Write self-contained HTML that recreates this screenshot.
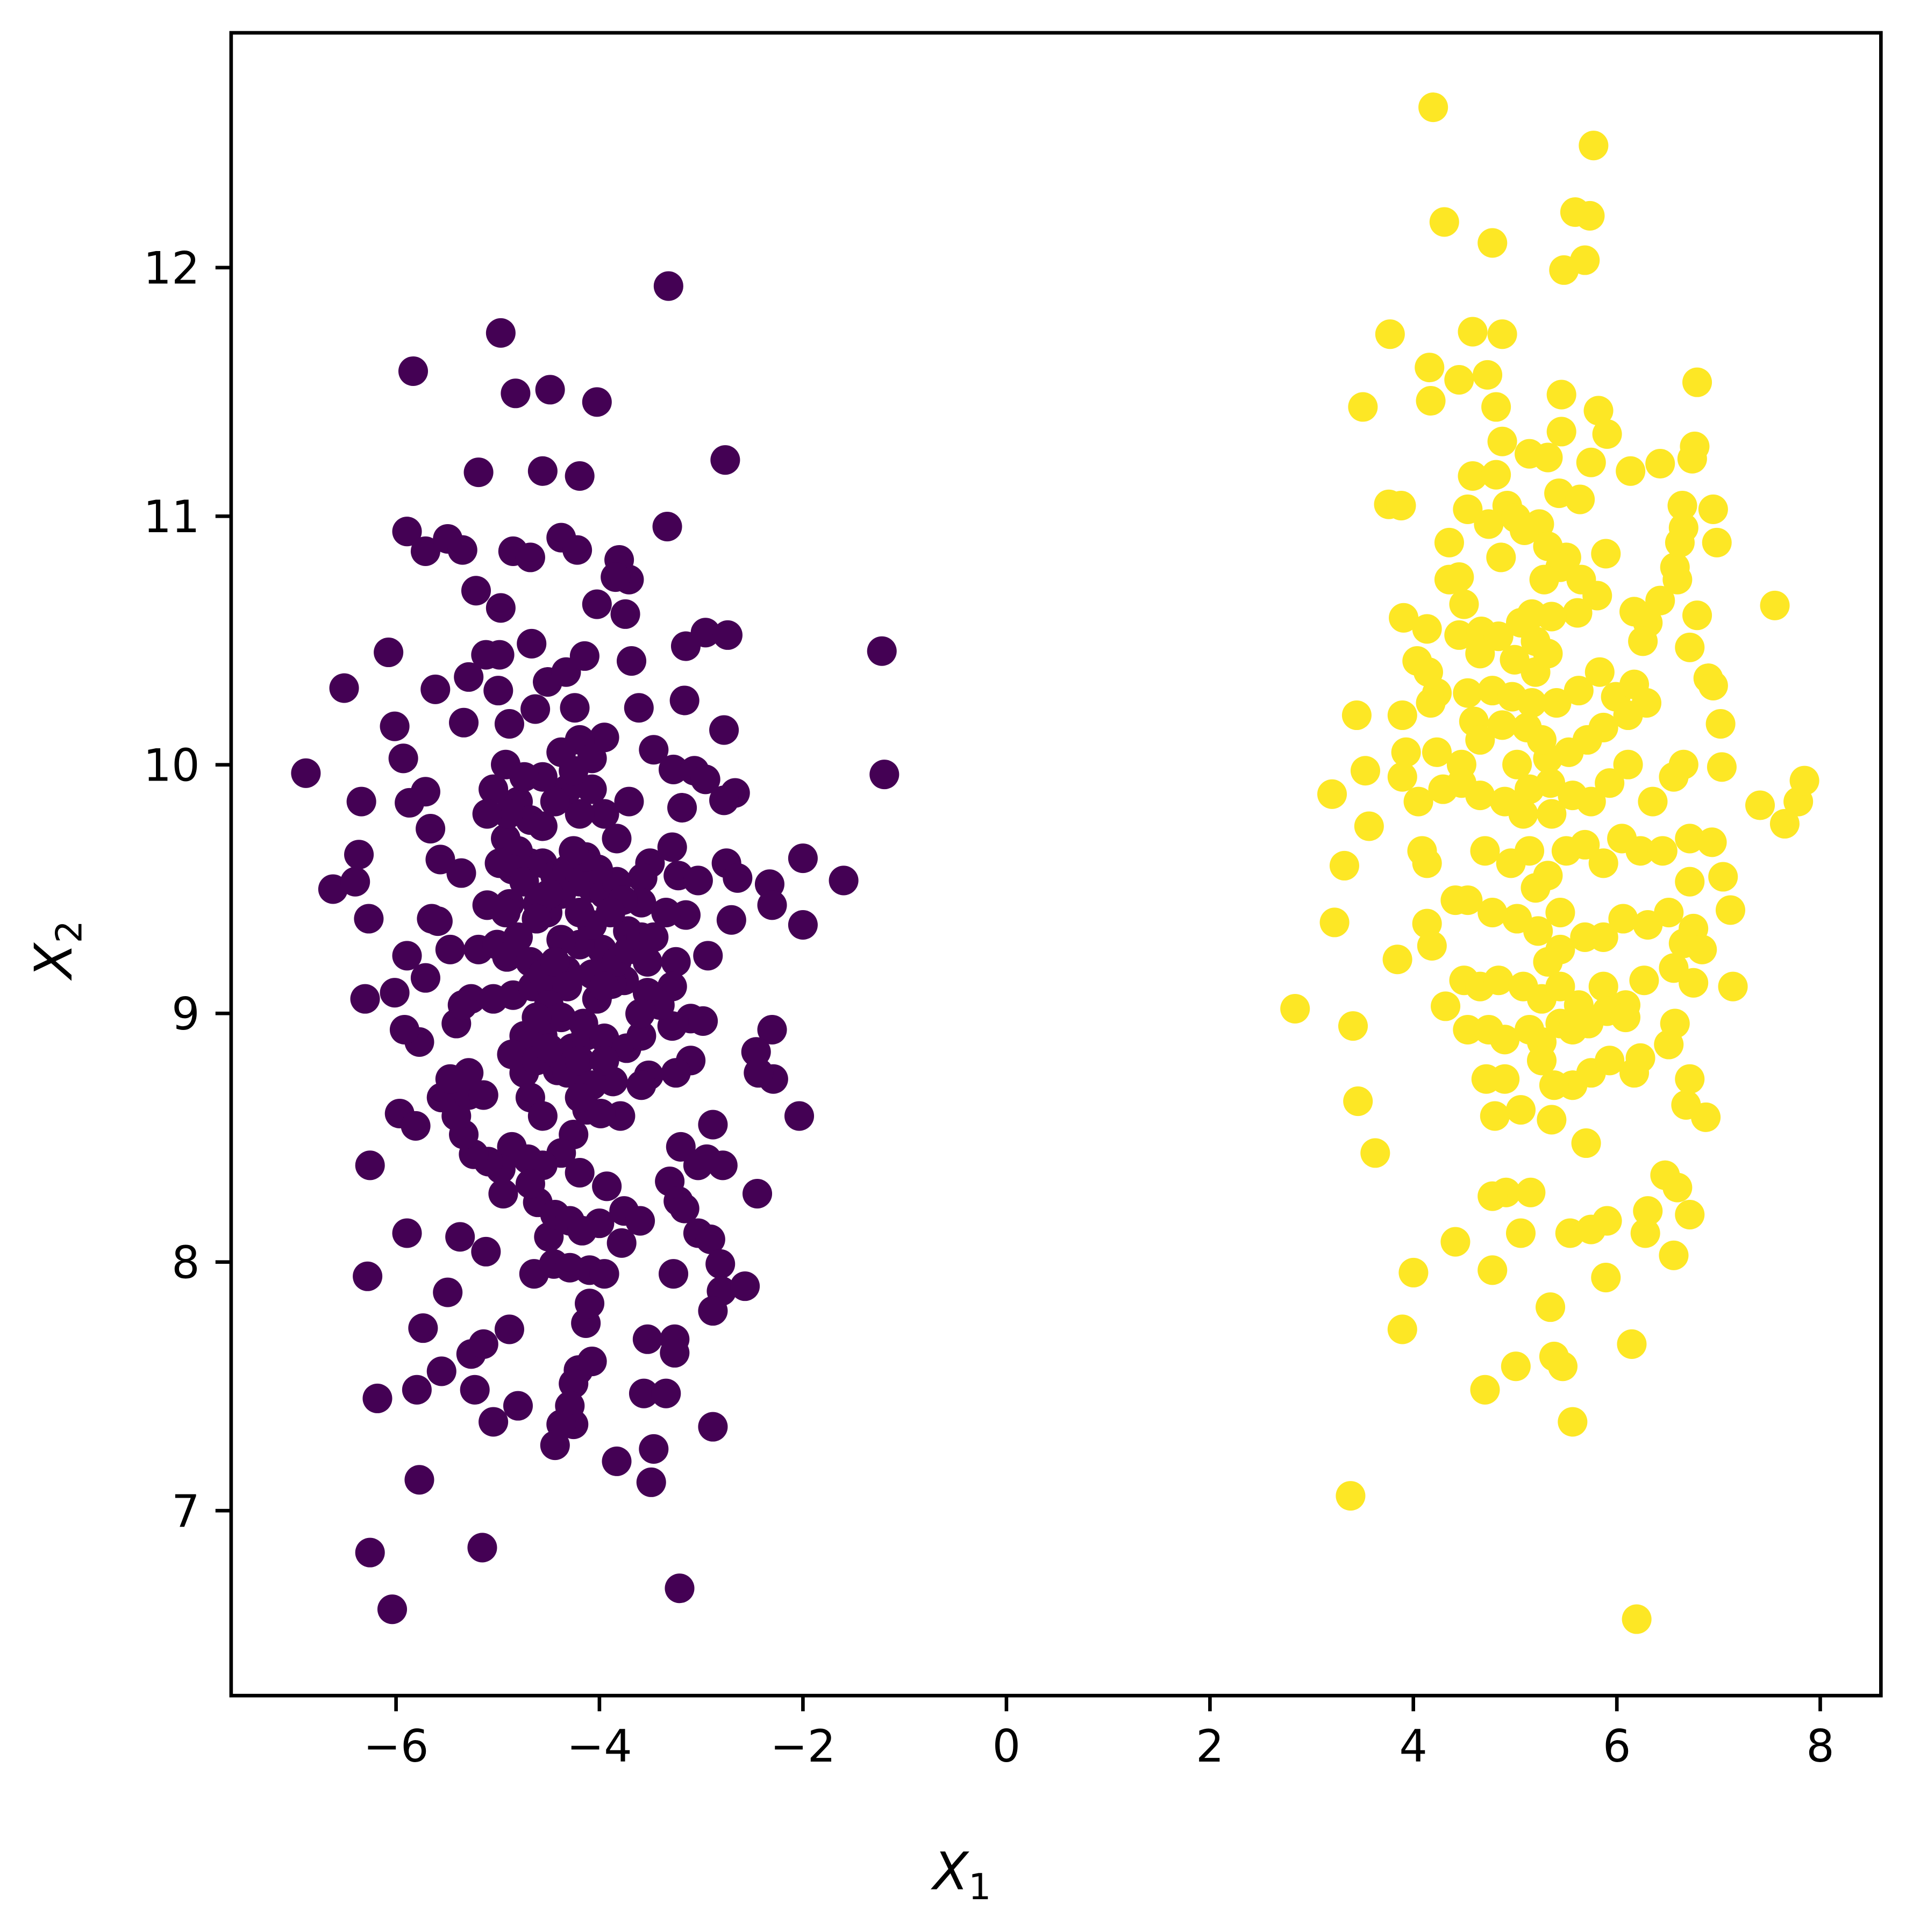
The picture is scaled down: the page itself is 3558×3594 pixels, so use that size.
<!DOCTYPE html>
<html><head><meta charset="utf-8"><style>html,body{margin:0;padding:0;background:#fff}svg{display:block}</style></head>
<body>
<svg xmlns="http://www.w3.org/2000/svg" width="3558" height="3594" viewBox="0 0 1551 1566.7">
<rect width="1551" height="1566.7" fill="#fff"/>
<g fill="#440154" id="p"></g>
<g fill="#fde725" id="y"></g>
<g fill="#440154">
<circle cx="248" cy="627" r="12"/><circle cx="279" cy="558" r="12"/><circle cx="315" cy="529" r="12"/><circle cx="270" cy="721" r="12"/><circle cx="288" cy="715" r="12"/><circle cx="291" cy="693" r="12"/><circle cx="299" cy="745" r="12"/><circle cx="293" cy="650" r="12"/><circle cx="296" cy="810" r="12"/><circle cx="300" cy="945" r="12"/><circle cx="298" cy="1035" r="12"/><circle cx="306" cy="1134" r="12"/><circle cx="300" cy="1259" r="12"/><circle cx="318" cy="1305" r="12"/><circle cx="335" cy="301" r="12"/><circle cx="330" cy="431" r="12"/><circle cx="345" cy="447" r="12"/><circle cx="363" cy="437" r="12"/><circle cx="375" cy="446" r="12"/><circle cx="388" cy="383" r="12"/><circle cx="386" cy="479" r="12"/><circle cx="406" cy="270" r="12"/><circle cx="418" cy="319" r="12"/><circle cx="446" cy="316" r="12"/><circle cx="440" cy="382" r="12"/><circle cx="470" cy="386" r="12"/><circle cx="484" cy="326" r="12"/><circle cx="542" cy="232" r="12"/><circle cx="588" cy="373" r="12"/><circle cx="541" cy="427" r="12"/><circle cx="416" cy="447" r="12"/><circle cx="430" cy="452" r="12"/><circle cx="455" cy="436" r="12"/><circle cx="468" cy="446" r="12"/><circle cx="502" cy="454" r="12"/><circle cx="510" cy="470" r="12"/><circle cx="499" cy="468" r="12"/><circle cx="484" cy="490" r="12"/><circle cx="406" cy="493" r="12"/><circle cx="507" cy="498" r="12"/><circle cx="556" cy="524" r="12"/><circle cx="572" cy="513" r="12"/><circle cx="590" cy="515" r="12"/><circle cx="512" cy="536" r="12"/><circle cx="431" cy="522" r="12"/><circle cx="394" cy="531" r="12"/><circle cx="380" cy="549" r="12"/><circle cx="405" cy="531" r="12"/><circle cx="353" cy="559" r="12"/><circle cx="320" cy="589" r="12"/><circle cx="327" cy="615" r="12"/><circle cx="332" cy="651" r="12"/><circle cx="345" cy="642" r="12"/><circle cx="349" cy="672" r="12"/><circle cx="376" cy="586" r="12"/><circle cx="413" cy="587" r="12"/><circle cx="404" cy="560" r="12"/><circle cx="434" cy="575" r="12"/><circle cx="444" cy="553" r="12"/><circle cx="466" cy="574" r="12"/><circle cx="459" cy="545" r="12"/><circle cx="474" cy="532" r="12"/><circle cx="490" cy="598" r="12"/><circle cx="518" cy="574" r="12"/><circle cx="530" cy="608" r="12"/><circle cx="555" cy="568" r="12"/><circle cx="587" cy="592" r="12"/><circle cx="546" cy="624" r="12"/><circle cx="563" cy="625" r="12"/><circle cx="572" cy="632" r="12"/><circle cx="596" cy="643" r="12"/><circle cx="587" cy="649" r="12"/><circle cx="553" cy="655" r="12"/><circle cx="545" cy="687" r="12"/><circle cx="527" cy="700" r="12"/><circle cx="521" cy="712" r="12"/><circle cx="550" cy="710" r="12"/><circle cx="566" cy="714" r="12"/><circle cx="589" cy="700" r="12"/><circle cx="598" cy="712" r="12"/><circle cx="624" cy="717" r="12"/><circle cx="626" cy="734" r="12"/><circle cx="651" cy="696" r="12"/><circle cx="684" cy="714" r="12"/><circle cx="715" cy="528" r="12"/><circle cx="717" cy="628" r="12"/><circle cx="651" cy="750" r="12"/><circle cx="593" cy="746" r="12"/><circle cx="556" cy="742" r="12"/><circle cx="520" cy="732" r="12"/><circle cx="509" cy="755" r="12"/><circle cx="488" cy="770" r="12"/><circle cx="470" cy="766" r="12"/><circle cx="455" cy="762" r="12"/><circle cx="444" cy="740" r="12"/><circle cx="436" cy="733" r="12"/><circle cx="413" cy="733" r="12"/><circle cx="395" cy="734" r="12"/><circle cx="374" cy="708" r="12"/><circle cx="357" cy="697" r="12"/><circle cx="350" cy="745" r="12"/><circle cx="355" cy="747" r="12"/><circle cx="330" cy="775" r="12"/><circle cx="345" cy="793" r="12"/><circle cx="365" cy="770" r="12"/><circle cx="388" cy="770" r="12"/><circle cx="403" cy="766" r="12"/><circle cx="411" cy="776" r="12"/><circle cx="382" cy="810" r="12"/><circle cx="370" cy="830" r="12"/><circle cx="375" cy="815" r="12"/><circle cx="400" cy="810" r="12"/><circle cx="416" cy="807" r="12"/><circle cx="432" cy="800" r="12"/><circle cx="447" cy="800" r="12"/><circle cx="459" cy="787" r="12"/><circle cx="440" cy="840" r="12"/><circle cx="452" cy="868" r="12"/><circle cx="464" cy="850" r="12"/><circle cx="475" cy="840" r="12"/><circle cx="490" cy="842" r="12"/><circle cx="497" cy="877" r="12"/><circle cx="508" cy="850" r="12"/><circle cx="520" cy="840" r="12"/><circle cx="545" cy="832" r="12"/><circle cx="560" cy="826" r="12"/><circle cx="570" cy="828" r="12"/><circle cx="574" cy="775" r="12"/><circle cx="548" cy="780" r="12"/><circle cx="545" cy="800" r="12"/><circle cx="535" cy="815" r="12"/><circle cx="525" cy="805" r="12"/><circle cx="519" cy="822" r="12"/><circle cx="506" cy="795" r="12"/><circle cx="496" cy="798" r="12"/><circle cx="484" cy="810" r="12"/><circle cx="473" cy="830" r="12"/><circle cx="560" cy="860" r="12"/><circle cx="548" cy="870" r="12"/><circle cx="526" cy="872" r="12"/><circle cx="520" cy="880" r="12"/><circle cx="503" cy="905" r="12"/><circle cx="487" cy="903" r="12"/><circle cx="476" cy="900" r="12"/><circle cx="465" cy="920" r="12"/><circle cx="455" cy="935" r="12"/><circle cx="440" cy="945" r="12"/><circle cx="428" cy="940" r="12"/><circle cx="415" cy="930" r="12"/><circle cx="406" cy="948" r="12"/><circle cx="396" cy="942" r="12"/><circle cx="384" cy="936" r="12"/><circle cx="376" cy="920" r="12"/><circle cx="370" cy="905" r="12"/><circle cx="358" cy="890" r="12"/><circle cx="380" cy="888" r="12"/><circle cx="392" cy="888" r="12"/><circle cx="380" cy="870" r="12"/><circle cx="365" cy="875" r="12"/><circle cx="340" cy="845" r="12"/><circle cx="328" cy="835" r="12"/><circle cx="320" cy="805" r="12"/><circle cx="324" cy="903" r="12"/><circle cx="337" cy="913" r="12"/><circle cx="330" cy="1000" r="12"/><circle cx="373" cy="1003" r="12"/><circle cx="394" cy="1015" r="12"/><circle cx="408" cy="968" r="12"/><circle cx="436" cy="975" r="12"/><circle cx="445" cy="1003" r="12"/><circle cx="450" cy="985" r="12"/><circle cx="462" cy="990" r="12"/><circle cx="472" cy="998" r="12"/><circle cx="486" cy="992" r="12"/><circle cx="506" cy="982" r="12"/><circle cx="519" cy="990" r="12"/><circle cx="492" cy="962" r="12"/><circle cx="470" cy="951" r="12"/><circle cx="430" cy="960" r="12"/><circle cx="433" cy="1033" r="12"/><circle cx="449" cy="1025" r="12"/><circle cx="462" cy="1028" r="12"/><circle cx="478" cy="1030" r="12"/><circle cx="490" cy="1033" r="12"/><circle cx="504" cy="1008" r="12"/><circle cx="543" cy="958" r="12"/><circle cx="550" cy="974" r="12"/><circle cx="555" cy="980" r="12"/><circle cx="566" cy="1000" r="12"/><circle cx="576" cy="1005" r="12"/><circle cx="584" cy="1025" r="12"/><circle cx="585" cy="1047" r="12"/><circle cx="578" cy="1063" r="12"/><circle cx="604" cy="1043" r="12"/><circle cx="614" cy="968" r="12"/><circle cx="578" cy="912" r="12"/><circle cx="586" cy="945" r="12"/><circle cx="552" cy="930" r="12"/><circle cx="566" cy="945" r="12"/><circle cx="573" cy="940" r="12"/><circle cx="546" cy="1033" r="12"/><circle cx="547" cy="1086" r="12"/><circle cx="547" cy="1097" r="12"/><circle cx="525" cy="1086" r="12"/><circle cx="522" cy="1130" r="12"/><circle cx="540" cy="1130" r="12"/><circle cx="530" cy="1175" r="12"/><circle cx="528" cy="1202" r="12"/><circle cx="500" cy="1185" r="12"/><circle cx="480" cy="1104" r="12"/><circle cx="469" cy="1111" r="12"/><circle cx="465" cy="1122" r="12"/><circle cx="462" cy="1140" r="12"/><circle cx="465" cy="1155" r="12"/><circle cx="455" cy="1155" r="12"/><circle cx="450" cy="1172" r="12"/><circle cx="475" cy="1073" r="12"/><circle cx="478" cy="1057" r="12"/><circle cx="391" cy="1255" r="12"/><circle cx="363" cy="1048" r="12"/><circle cx="358" cy="1112" r="12"/><circle cx="382" cy="1098" r="12"/><circle cx="392" cy="1090" r="12"/><circle cx="343" cy="1077" r="12"/><circle cx="338" cy="1127" r="12"/><circle cx="385" cy="1127" r="12"/><circle cx="400" cy="1153" r="12"/><circle cx="420" cy="1140" r="12"/><circle cx="413" cy="1078" r="12"/><circle cx="340" cy="1200" r="12"/><circle cx="551" cy="1288" r="12"/><circle cx="578" cy="1157" r="12"/><circle cx="648" cy="905" r="12"/><circle cx="626" cy="835" r="12"/><circle cx="613" cy="853" r="12"/><circle cx="627" cy="875" r="12"/><circle cx="615" cy="870" r="12"/>
<circle cx="410" cy="680" r="12"/><circle cx="420" cy="690" r="12"/><circle cx="430" cy="700" r="12"/><circle cx="415" cy="705" r="12"/><circle cx="425" cy="715" r="12"/><circle cx="440" cy="700" r="12"/><circle cx="450" cy="710" r="12"/><circle cx="460" cy="705" r="12"/><circle cx="470" cy="715" r="12"/><circle cx="480" cy="720" r="12"/><circle cx="490" cy="725" r="12"/><circle cx="500" cy="715" r="12"/><circle cx="505" cy="730" r="12"/><circle cx="495" cy="740" r="12"/><circle cx="485" cy="705" r="12"/><circle cx="475" cy="695" r="12"/><circle cx="465" cy="690" r="12"/><circle cx="455" cy="725" r="12"/><circle cx="445" cy="725" r="12"/><circle cx="435" cy="745" r="12"/><circle cx="420" cy="650" r="12"/><circle cx="430" cy="665" r="12"/><circle cx="440" cy="670" r="12"/><circle cx="412" cy="660" r="12"/><circle cx="405" cy="700" r="12"/><circle cx="420" cy="760" r="12"/><circle cx="430" cy="780" r="12"/><circle cx="440" cy="790" r="12"/><circle cx="450" cy="780" r="12"/><circle cx="460" cy="800" r="12"/><circle cx="445" cy="815" r="12"/><circle cx="455" cy="825" r="12"/><circle cx="435" cy="825" r="12"/><circle cx="425" cy="840" r="12"/><circle cx="415" cy="855" r="12"/><circle cx="425" cy="870" r="12"/><circle cx="435" cy="860" r="12"/><circle cx="445" cy="850" r="12"/><circle cx="430" cy="890" r="12"/><circle cx="440" cy="905" r="12"/><circle cx="460" cy="870" r="12"/><circle cx="470" cy="860" r="12"/><circle cx="480" cy="880" r="12"/><circle cx="470" cy="890" r="12"/><circle cx="490" cy="860" r="12"/><circle cx="500" cy="780" r="12"/><circle cx="510" cy="770" r="12"/><circle cx="520" cy="760" r="12"/><circle cx="480" cy="750" r="12"/><circle cx="470" cy="740" r="12"/><circle cx="500" cy="680" r="12"/><circle cx="490" cy="660" r="12"/><circle cx="510" cy="650" r="12"/><circle cx="480" cy="640" r="12"/><circle cx="470" cy="660" r="12"/><circle cx="460" cy="640" r="12"/><circle cx="450" cy="650" r="12"/><circle cx="470" cy="600" r="12"/><circle cx="480" cy="615" r="12"/><circle cx="465" cy="625" r="12"/><circle cx="455" cy="610" r="12"/><circle cx="440" cy="630" r="12"/><circle cx="425" cy="630" r="12"/><circle cx="410" cy="620" r="12"/><circle cx="400" cy="640" r="12"/><circle cx="395" cy="660" r="12"/><circle cx="410" cy="740" r="12"/><circle cx="480" cy="790" r="12"/><circle cx="490" cy="800" r="12"/><circle cx="525" cy="780" r="12"/><circle cx="530" cy="760" r="12"/><circle cx="540" cy="740" r="12"/>
</g>
<g fill="#fde725">
<circle cx="1162" cy="87" r="12"/><circle cx="1292" cy="118" r="12"/><circle cx="1171" cy="180" r="12"/><circle cx="1277" cy="172" r="12"/><circle cx="1289" cy="175" r="12"/><circle cx="1285" cy="211" r="12"/><circle cx="1268" cy="219" r="12"/><circle cx="1210" cy="197" r="12"/><circle cx="1127" cy="271" r="12"/><circle cx="1194" cy="269" r="12"/><circle cx="1218" cy="271" r="12"/><circle cx="1159" cy="298" r="12"/><circle cx="1105" cy="330" r="12"/><circle cx="1183" cy="308" r="12"/><circle cx="1206" cy="304" r="12"/><circle cx="1160" cy="325" r="12"/><circle cx="1213" cy="330" r="12"/><circle cx="1266" cy="320" r="12"/><circle cx="1266" cy="350" r="12"/><circle cx="1296" cy="333" r="12"/><circle cx="1303" cy="352" r="12"/><circle cx="1290" cy="375" r="12"/><circle cx="1322" cy="382" r="12"/><circle cx="1346" cy="376" r="12"/><circle cx="1374" cy="362" r="12"/><circle cx="1376" cy="310" r="12"/><circle cx="1372" cy="372" r="12"/><circle cx="1218" cy="358" r="12"/><circle cx="1240" cy="368" r="12"/><circle cx="1255" cy="371" r="12"/><circle cx="1126" cy="409" r="12"/><circle cx="1136" cy="410" r="12"/><circle cx="1194" cy="386" r="12"/><circle cx="1213" cy="385" r="12"/><circle cx="1222" cy="410" r="12"/><circle cx="1190" cy="413" r="12"/><circle cx="1175" cy="440" r="12"/><circle cx="1207" cy="425" r="12"/><circle cx="1229" cy="420" r="12"/><circle cx="1248" cy="425" r="12"/><circle cx="1264" cy="400" r="12"/><circle cx="1281" cy="405" r="12"/><circle cx="1236" cy="430" r="12"/><circle cx="1255" cy="443" r="12"/><circle cx="1270" cy="452" r="12"/><circle cx="1265" cy="460" r="12"/><circle cx="1183" cy="468" r="12"/><circle cx="1217" cy="452" r="12"/><circle cx="1175" cy="470" r="12"/><circle cx="1187" cy="490" r="12"/><circle cx="1252" cy="470" r="12"/><circle cx="1282" cy="470" r="12"/><circle cx="1295" cy="483" r="12"/><circle cx="1302" cy="449" r="12"/><circle cx="1279" cy="497" r="12"/><circle cx="1138" cy="501" r="12"/><circle cx="1157" cy="510" r="12"/><circle cx="1183" cy="515" r="12"/><circle cx="1201" cy="512" r="12"/><circle cx="1215" cy="516" r="12"/><circle cx="1233" cy="505" r="12"/><circle cx="1242" cy="498" r="12"/><circle cx="1258" cy="500" r="12"/><circle cx="1245" cy="520" r="12"/><circle cx="1200" cy="530" r="12"/><circle cx="1228" cy="535" r="12"/><circle cx="1245" cy="545" r="12"/><circle cx="1255" cy="530" r="12"/><circle cx="1325" cy="496" r="12"/><circle cx="1336" cy="505" r="12"/><circle cx="1332" cy="520" r="12"/><circle cx="1346" cy="487" r="12"/><circle cx="1360" cy="470" r="12"/><circle cx="1358" cy="460" r="12"/><circle cx="1365" cy="428" r="12"/><circle cx="1362" cy="440" r="12"/><circle cx="1364" cy="410" r="12"/><circle cx="1389" cy="413" r="12"/><circle cx="1392" cy="440" r="12"/><circle cx="1376" cy="499" r="12"/><circle cx="1370" cy="525" r="12"/><circle cx="1385" cy="550" r="12"/><circle cx="1389" cy="556" r="12"/><circle cx="1395" cy="587" r="12"/><circle cx="1396" cy="622" r="12"/><circle cx="1439" cy="491" r="12"/><circle cx="1149" cy="536" r="12"/><circle cx="1158" cy="545" r="12"/><circle cx="1165" cy="562" r="12"/><circle cx="1160" cy="570" r="12"/><circle cx="1100" cy="580" r="12"/><circle cx="1137" cy="580" r="12"/><circle cx="1195" cy="585" r="12"/><circle cx="1190" cy="562" r="12"/><circle cx="1210" cy="560" r="12"/><circle cx="1226" cy="565" r="12"/><circle cx="1242" cy="570" r="12"/><circle cx="1262" cy="570" r="12"/><circle cx="1280" cy="560" r="12"/><circle cx="1297" cy="545" r="12"/><circle cx="1310" cy="565" r="12"/><circle cx="1325" cy="555" r="12"/><circle cx="1335" cy="570" r="12"/><circle cx="1320" cy="580" r="12"/><circle cx="1300" cy="590" r="12"/><circle cx="1287" cy="600" r="12"/><circle cx="1272" cy="610" r="12"/><circle cx="1255" cy="615" r="12"/><circle cx="1238" cy="590" r="12"/><circle cx="1218" cy="588" r="12"/><circle cx="1200" cy="600" r="12"/><circle cx="1185" cy="620" r="12"/><circle cx="1165" cy="610" r="12"/><circle cx="1140" cy="610" r="12"/><circle cx="1107" cy="625" r="12"/><circle cx="1137" cy="630" r="12"/><circle cx="1080" cy="644" r="12"/><circle cx="1150" cy="650" r="12"/><circle cx="1170" cy="640" r="12"/><circle cx="1185" cy="635" r="12"/><circle cx="1200" cy="645" r="12"/><circle cx="1220" cy="650" r="12"/><circle cx="1240" cy="640" r="12"/><circle cx="1257" cy="635" r="12"/><circle cx="1275" cy="645" r="12"/><circle cx="1290" cy="650" r="12"/><circle cx="1305" cy="635" r="12"/><circle cx="1320" cy="620" r="12"/><circle cx="1340" cy="650" r="12"/><circle cx="1357" cy="630" r="12"/><circle cx="1365" cy="620" r="12"/><circle cx="1110" cy="670" r="12"/><circle cx="1153" cy="690" r="12"/><circle cx="1157" cy="700" r="12"/><circle cx="1090" cy="702" r="12"/><circle cx="1082" cy="748" r="12"/><circle cx="1157" cy="749" r="12"/><circle cx="1161" cy="767" r="12"/><circle cx="1180" cy="730" r="12"/><circle cx="1204" cy="690" r="12"/><circle cx="1225" cy="700" r="12"/><circle cx="1240" cy="690" r="12"/><circle cx="1255" cy="710" r="12"/><circle cx="1270" cy="690" r="12"/><circle cx="1285" cy="685" r="12"/><circle cx="1300" cy="700" r="12"/><circle cx="1315" cy="680" r="12"/><circle cx="1330" cy="690" r="12"/><circle cx="1348" cy="690" r="12"/><circle cx="1370" cy="680" r="12"/><circle cx="1370" cy="715" r="12"/><circle cx="1388" cy="683" r="12"/><circle cx="1397" cy="711" r="12"/><circle cx="1403" cy="738" r="12"/><circle cx="1373" cy="753" r="12"/><circle cx="1353" cy="740" r="12"/><circle cx="1336" cy="750" r="12"/><circle cx="1316" cy="745" r="12"/><circle cx="1300" cy="760" r="12"/><circle cx="1285" cy="760" r="12"/><circle cx="1265" cy="770" r="12"/><circle cx="1247" cy="755" r="12"/><circle cx="1230" cy="745" r="12"/><circle cx="1210" cy="740" r="12"/><circle cx="1190" cy="730" r="12"/><circle cx="1172" cy="816" r="12"/><circle cx="1187" cy="795" r="12"/><circle cx="1200" cy="800" r="12"/><circle cx="1215" cy="795" r="12"/><circle cx="1235" cy="800" r="12"/><circle cx="1250" cy="810" r="12"/><circle cx="1265" cy="800" r="12"/><circle cx="1280" cy="815" r="12"/><circle cx="1300" cy="800" r="12"/><circle cx="1318" cy="815" r="12"/><circle cx="1333" cy="795" r="12"/><circle cx="1357" cy="785" r="12"/><circle cx="1373" cy="797" r="12"/><circle cx="1380" cy="770" r="12"/><circle cx="1365" cy="765" r="12"/><circle cx="1405" cy="800" r="12"/><circle cx="1458" cy="650" r="12"/><circle cx="1427" cy="653" r="12"/><circle cx="1447" cy="668" r="12"/><circle cx="1463" cy="633" r="12"/><circle cx="1050" cy="818" r="12"/><circle cx="1097" cy="832" r="12"/><circle cx="1101" cy="893" r="12"/><circle cx="1115" cy="935" r="12"/><circle cx="1133" cy="778" r="12"/><circle cx="1190" cy="835" r="12"/><circle cx="1207" cy="835" r="12"/><circle cx="1220" cy="843" r="12"/><circle cx="1240" cy="835" r="12"/><circle cx="1250" cy="845" r="12"/><circle cx="1265" cy="830" r="12"/><circle cx="1275" cy="835" r="12"/><circle cx="1288" cy="830" r="12"/><circle cx="1303" cy="820" r="12"/><circle cx="1318" cy="825" r="12"/><circle cx="1205" cy="875" r="12"/><circle cx="1220" cy="875" r="12"/><circle cx="1212" cy="905" r="12"/><circle cx="1233" cy="900" r="12"/><circle cx="1258" cy="908" r="12"/><circle cx="1275" cy="880" r="12"/><circle cx="1290" cy="870" r="12"/><circle cx="1305" cy="860" r="12"/><circle cx="1325" cy="870" r="12"/><circle cx="1330" cy="858" r="12"/><circle cx="1353" cy="847" r="12"/><circle cx="1358" cy="830" r="12"/><circle cx="1367" cy="896" r="12"/><circle cx="1370" cy="875" r="12"/><circle cx="1383" cy="906" r="12"/><circle cx="1286" cy="927" r="12"/><circle cx="1221" cy="967" r="12"/><circle cx="1210" cy="970" r="12"/><circle cx="1241" cy="967" r="12"/><circle cx="1233" cy="1000" r="12"/><circle cx="1180" cy="1007" r="12"/><circle cx="1210" cy="1030" r="12"/><circle cx="1146" cy="1032" r="12"/><circle cx="1137" cy="1078" r="12"/><circle cx="1204" cy="1127" r="12"/><circle cx="1229" cy="1108" r="12"/><circle cx="1257" cy="1060" r="12"/><circle cx="1260" cy="1100" r="12"/><circle cx="1267" cy="1108" r="12"/><circle cx="1275" cy="1153" r="12"/><circle cx="1273" cy="1000" r="12"/><circle cx="1290" cy="997" r="12"/><circle cx="1303" cy="990" r="12"/><circle cx="1302" cy="1036" r="12"/><circle cx="1323" cy="1090" r="12"/><circle cx="1334" cy="1000" r="12"/><circle cx="1336" cy="982" r="12"/><circle cx="1350" cy="953" r="12"/><circle cx="1360" cy="963" r="12"/><circle cx="1357" cy="1018" r="12"/><circle cx="1370" cy="985" r="12"/><circle cx="1095" cy="1213" r="12"/><circle cx="1327" cy="1313" r="12"/><circle cx="1250" cy="860" r="12"/><circle cx="1260" cy="880" r="12"/><circle cx="1255" cy="780" r="12"/><circle cx="1265" cy="740" r="12"/><circle cx="1245" cy="720" r="12"/><circle cx="1230" cy="620" r="12"/><circle cx="1250" cy="600" r="12"/><circle cx="1235" cy="660" r="12"/><circle cx="1258" cy="660" r="12"/>
</g>
<rect x="187.4" y="26.6" width="1337.6" height="1348.4" fill="none" stroke="#000" stroke-width="2.9"/>
<g stroke="#000" stroke-width="2.9">
<line x1="321.1" y1="1375" x2="321.1" y2="1387.7"/><line x1="486" y1="1375" x2="486" y2="1387.7"/><line x1="651" y1="1375" x2="651" y2="1387.7"/><line x1="816" y1="1375" x2="816" y2="1387.7"/><line x1="981" y1="1375" x2="981" y2="1387.7"/><line x1="1145.9" y1="1375" x2="1145.9" y2="1387.7"/><line x1="1310.9" y1="1375" x2="1310.9" y2="1387.7"/><line x1="1475.8" y1="1375" x2="1475.8" y2="1387.7"/>
<line x1="174.7" y1="1225" x2="187.4" y2="1225"/><line x1="174.7" y1="1023.4" x2="187.4" y2="1023.4"/><line x1="174.7" y1="821.8" x2="187.4" y2="821.8"/><line x1="174.7" y1="620.2" x2="187.4" y2="620.2"/><line x1="174.7" y1="418.6" x2="187.4" y2="418.6"/><line x1="174.7" y1="217" x2="187.4" y2="217"/>
</g>
<g font-family="DejaVu Sans, Liberation Sans, sans-serif" font-size="36" fill="#000">
<g text-anchor="middle">
<text x="321.1" y="1428.5">−6</text><text x="486" y="1428.5">−4</text><text x="651" y="1428.5">−2</text><text x="816" y="1428.5">0</text><text x="981" y="1428.5">2</text><text x="1145.9" y="1428.5">4</text><text x="1310.9" y="1428.5">6</text><text x="1475.8" y="1428.5">8</text>
</g>
<g text-anchor="end">
<text x="162" y="1238">7</text><text x="162" y="1036.4">8</text><text x="162" y="834.8">9</text><text x="162" y="633.2">10</text><text x="162" y="431.6">11</text><text x="162" y="230">12</text>
</g>
<text x="780" y="1532" text-anchor="middle" font-size="42"><tspan font-style="italic">X</tspan><tspan font-size="29" dy="8">1</tspan></text>
<text transform="translate(58,770) rotate(-90)" text-anchor="middle" font-size="42"><tspan font-style="italic">X</tspan><tspan font-size="29" dy="8">2</tspan></text>
</g>
</svg>
</body></html>
